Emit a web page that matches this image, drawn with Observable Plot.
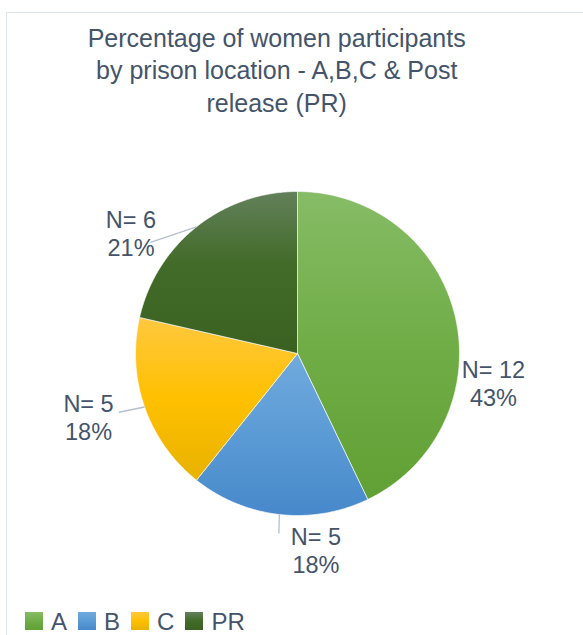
<!DOCTYPE html>
<html>
<head>
<meta charset="utf-8">
<script src="https://cdn.jsdelivr.net/npm/d3@7"></script>
<script src="https://cdn.jsdelivr.net/npm/@observablehq/plot@0.6"></script>
<style>
  html, body { margin: 0; padding: 0; background: #fff; }
  body { width: 583px; height: 635px; overflow: hidden; position: relative; font-family: "Liberation Sans", Arial, sans-serif; }
  #frame { position: absolute; left: 6px; top: 12px; width: 660px; height: 700px; border: 1.5px solid #dfe4ea; box-sizing: border-box; }
  #title { position: absolute; left: 0; top: 22px; width: 553.4px; text-align: center; font-size: 25px; line-height: 32.3px; color: #44546a; }
  #chart { position: absolute; left: 0; top: 125px; }
  #legend { position: absolute; left: 25px; top: 608.7px; height: 25px; display: flex; align-items: center; font-family: "Liberation Sans", Arial, sans-serif; font-size: 24px; line-height: 25px; color: #44546a; }
  .item { display: flex; align-items: center; margin-right: 11px; height: 25px; }
  .sw { width: 18px; height: 18px; margin-right: 8px; }
  .lt { display: inline-block; height: 25px; line-height: 25px; }
</style>
</head>
<body>
<div id="frame"></div>
<div id="title">Percentage of women participants<br>by prison location - A,B,C &amp; Post<br>release (PR)</div>
<div id="chart"></div>
<div id="legend"></div>
<script>
// ---- data ----
const categories = ["A", "B", "C", "PR"];
const counts = [12, 5, 5, 6];
const percents = [43, 18, 18, 21];

// ---- styles ----
const sliceColors = {
  A:  ["#86bc66", "#70ad47", "#61a034"],
  B:  ["#71aade", "#5b9bd5", "#4688ca"],
  C:  ["#ffc83f", "#ffc000", "#e8b200"],
  PR: ["#63805a", "#426b29", "#3a6121"]
};
const textColor = "#44546a";

// ---- label layout (polar: degrees clockwise from top, radius in pie radii) ----
const labelLayout = {
  A:  {angle: 99.1,  r: 1.225},
  B:  {angle: 174.7, r: 1.230},
  C:  {angle: 252.7, r: 1.351},
  PR: {angle: 305.6, r: 1.264}
};
const leaderLayout = {
  B:  {angle: 185.9, r: 1.117},
  C:  {angle: 251.8, r: 1.161},
  PR: {angle: 307.1, r: 1.138}
};

const rows = categories.map((cat, i) => ({cat, count: counts[i], pct: percents[i]}));
const arcs = d3.pie().sort(null).value(d => d.count)(rows);

const polar = (deg, r) => ({x: r * Math.sin(deg * Math.PI / 180), y: r * Math.cos(deg * Math.PI / 180)});

// slice outlines
const slicePts = [];
arcs.forEach(a => {
  const key = a.data.cat;
  const n = Math.max(2, Math.ceil((a.endAngle - a.startAngle) / (Math.PI / 360)));
  slicePts.push({key, x: 0, y: 0});
  for (let i = 0; i <= n; i++) {
    const t = a.startAngle + (a.endAngle - a.startAngle) * i / n;
    slicePts.push({key, x: Math.sin(t), y: Math.cos(t)});
  }
  slicePts.push({key, x: 0, y: 0});
});

// labels
const labels = arcs.map(a => {
  const L = labelLayout[a.data.cat];
  const p = polar(L.angle, L.r);
  return {...a.data, x: p.x, y: p.y};
});

// leaders: from the middle of each arc out to its label
const leaders = arcs.filter(a => leaderLayout[a.data.cat]).map(a => {
  const mid = (a.startAngle + a.endAngle) / 2;
  const L = leaderLayout[a.data.cat];
  const e = polar(L.angle, L.r);
  return {cat: a.data.cat, x1: Math.sin(mid), y1: Math.cos(mid), x2: e.x, y2: e.y};
});

const svg = Plot.plot({
  width: 583,
  height: 470,
  margin: 0,
  style: {background: "transparent", overflow: "visible"},
  x: {domain: [-1, 1], range: [135, 459], axis: null},
  y: {domain: [-1, 1], range: [390, 66], axis: null},
  marks: [
    ...categories.map(c => Plot.line(slicePts.filter(p => p.key === c), {
      x: "x", y: "y", fill: `url(#grad-${c})`, stroke: "#ffffff", strokeWidth: 0.8, strokeOpacity: 0.8, curve: "linear"
    })),
    Plot.link(leaders, {x1: "x1", y1: "y1", x2: "x2", y2: "y2", stroke: "#b5c0cf", strokeWidth: 1.3}),
    Plot.text(labels, {x: "x", y: "y", text: d => `N= ${d.count}`, dy: -14, fontSize: 23.5, fontFamily: "Liberation Sans, Arial, sans-serif", fill: textColor, textAnchor: "middle"}),
    Plot.text(labels, {x: "x", y: "y", text: d => `${d.pct}%`, dy: 14, fontSize: 23.5, fontFamily: "Liberation Sans, Arial, sans-serif", fill: textColor, textAnchor: "middle"})
  ]
});

// gradients
const NS = "http://www.w3.org/2000/svg";
const defs = document.createElementNS(NS, "defs");
categories.forEach(c => {
  const g = document.createElementNS(NS, "linearGradient");
  g.setAttribute("id", `grad-${c}`);
  g.setAttribute("x1", "0"); g.setAttribute("y1", "0");
  g.setAttribute("x2", "0"); g.setAttribute("y2", "1");
  const stops = c === "PR" ? [0, 0.45, 1] : [0, 0.5, 1];
  sliceColors[c].forEach((col, i) => {
    const s = document.createElementNS(NS, "stop");
    s.setAttribute("offset", stops[i]);
    s.setAttribute("stop-color", col);
    g.appendChild(s);
  });
  defs.appendChild(g);
});
svg.insertBefore(defs, svg.firstChild);
document.getElementById("chart").appendChild(svg);

// legend
const legend = document.getElementById("legend");
categories.forEach(c => {
  const item = document.createElement("div");
  item.className = "item";
  const sw = document.createElement("div");
  sw.className = "sw";
  sw.style.background = `linear-gradient(to bottom, ${sliceColors[c][0]}, ${sliceColors[c][1]} 50%, ${sliceColors[c][2]})`;
  const tx = document.createElement("span");
  tx.className = "lt";
  tx.textContent = c;
  item.appendChild(sw);
  item.appendChild(tx);
  legend.appendChild(item);
});
</script>
</body>
</html>
